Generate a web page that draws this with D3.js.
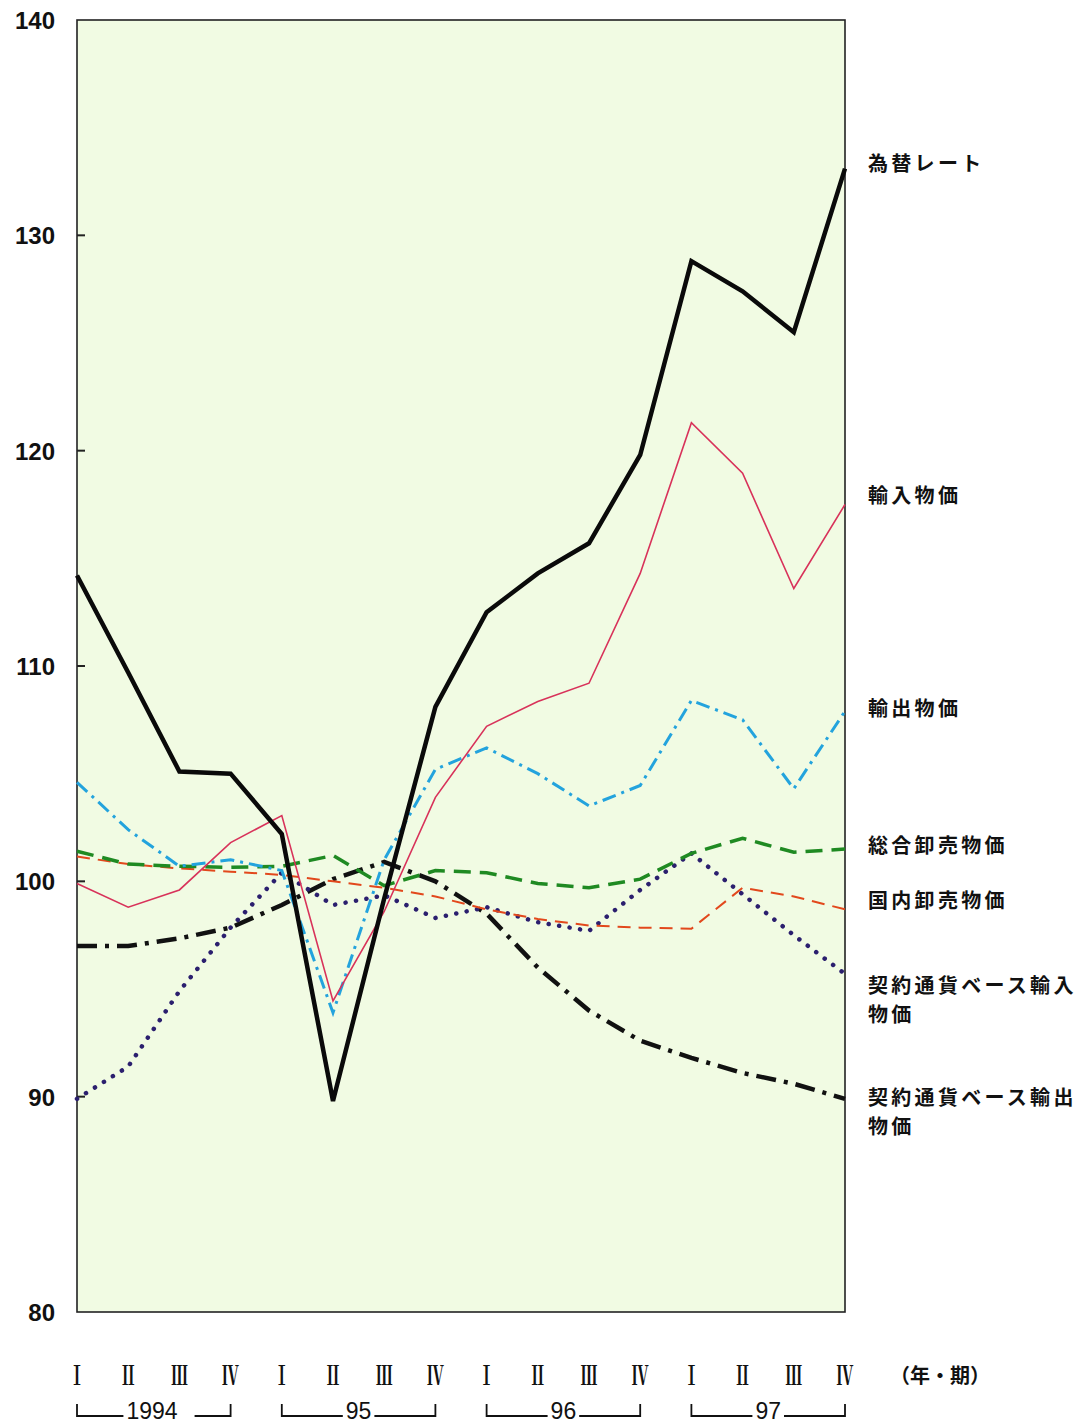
<!DOCTYPE html>
<html><head><meta charset="utf-8">
<script src="https://cdn.jsdelivr.net/npm/d3@7"></script>
<style>body{margin:0;background:#fff}svg{display:block}</style>
</head><body>
<svg id="chart" width="1081" height="1423"></svg>
<script>
// ---- data ----
const quarters = ["Ⅰ","Ⅱ","Ⅲ","Ⅳ","Ⅰ","Ⅱ","Ⅲ","Ⅳ","Ⅰ","Ⅱ","Ⅲ","Ⅳ","Ⅰ","Ⅱ","Ⅲ","Ⅳ"];
const years = ["1994","95","96","97"];
const yTicks = [80,90,100,110,120,130,140];
const exchangeRate   = [114.2,109.7,105.1,105.0,102.2,89.8,99.2,108.1,112.5,114.3,115.7,119.8,128.8,127.4,125.5,133.1];
const importPrice    = [99.9,98.8,99.6,101.8,103.05,94.45,98.6,103.9,107.2,108.35,109.2,114.3,121.3,118.95,113.6,117.5];
const exportPrice    = [104.6,102.4,100.7,101.0,100.5,93.9,101.0,105.2,106.2,105.0,103.5,104.45,108.4,107.5,104.3,107.9];
const totalWholesale = [101.4,100.8,100.7,100.65,100.7,101.2,99.8,100.5,100.4,99.9,99.7,100.1,101.3,102.0,101.35,101.5];
const domesticWholesale = [101.15,100.8,100.6,100.45,100.3,100.0,99.7,99.3,98.7,98.25,97.95,97.85,97.8,99.7,99.3,98.7];
const contractImport = [89.9,91.4,94.9,97.85,100.4,98.9,99.35,98.3,98.8,98.1,97.7,99.6,101.3,99.4,97.5,95.7];
const contractExport = [97.0,97.0,97.35,97.85,98.9,100.1,100.9,100.0,98.5,96.0,94.0,92.6,91.8,91.1,90.6,89.9];

const series = [
  {name:"契約通貨ベース輸出物価", values:contractExport, color:"#111", width:4.5, dash:"20,8,4,8"},
  {name:"契約通貨ベース輸入物価", values:contractImport, color:"#2b1f6e", width:4.5, dash:"0.1,10.5", cap:"round"},
  {name:"国内卸売物価", values:domesticWholesale, color:"#e2481c", width:2, dash:"13,8"},
  {name:"総合卸売物価", values:totalWholesale, color:"#1f8a22", width:3.5, dash:"17,9"},
  {name:"輸出物価", values:exportPrice, color:"#23a3dd", width:3, dash:"14,6,3,6"},
  {name:"輸入物価", values:importPrice, color:"#d8325a", width:1.6, dash:null},
  {name:"為替レート", values:exchangeRate, color:"#0a0a0a", width:4.5, dash:null}
];
const labels = [
  {lines:["為替レート"], y:171},
  {lines:["輸入物価"], y:503},
  {lines:["輸出物価"], y:716},
  {lines:["総合卸売物価"], y:853},
  {lines:["国内卸売物価"], y:908},
  {lines:["契約通貨ベース輸入","物価"], y:993},
  {lines:["契約通貨ベース輸出","物価"], y:1105}
];

// ---- layout ----
const svg = d3.select("#chart");
const L = 77, R = 845, T = 20, B = 1312;
const x = d3.scalePoint().domain(d3.range(16)).range([L, R]);
const y = d3.scaleLinear().domain([80,140]).range([B, T]);

svg.append("rect").attr("x",L).attr("y",T).attr("width",R-L).attr("height",B-T)
  .attr("fill","#f1fbe3").attr("stroke","#222").attr("stroke-width",1.6);

// y ticks (inside) and labels
svg.append("g").selectAll("line").data(yTicks.filter(d=>d>80&&d<140)).join("line")
  .attr("x1",L).attr("x2",L+8).attr("y1",d=>y(d)).attr("y2",d=>y(d))
  .attr("stroke","#222").attr("stroke-width",2);
svg.append("g").selectAll("text").data(yTicks).join("text")
  .attr("x",55).attr("y",d=>y(d)+9).attr("text-anchor","end")
  .attr("font-family","Liberation Sans, Arial, sans-serif").attr("font-size",24).attr("font-weight","bold")
  .attr("fill","#111").text(d=>d);

// lines
const line = d3.line().x((d,i)=>x(i)).y(d=>y(d));
svg.append("g").selectAll("path").data(series).join("path")
  .attr("d",d=>line(d.values)).attr("fill","none")
  .attr("stroke",d=>d.color).attr("stroke-width",d=>d.width)
  .attr("stroke-dasharray",d=>d.dash)
  .attr("stroke-linecap",d=>d.cap||"butt").attr("stroke-linejoin","miter");

// right labels
const lg = svg.append("g").attr("font-family","Noto Sans CJK JP, sans-serif")
  .attr("font-size",20).attr("font-weight","bold").attr("fill","#111").attr("letter-spacing",3.3);
labels.forEach(l=>{
  l.lines.forEach((s,k)=>{
    lg.append("text").attr("x",868).attr("y",l.y+k*29).text(s);
  });
});

// x axis quarter labels
const xg = svg.append("g");
quarters.forEach((q,i)=>{
  xg.append("text").attr("transform",`translate(${x(i)},1385) scale(0.85,1.35)`)
    .attr("text-anchor","middle").attr("font-family","Noto Serif CJK JP, Liberation Serif, serif")
    .attr("font-size",20).attr("font-weight","bold").attr("fill","#111").text(q);
});
svg.append("text").attr("x",890).attr("y",1383).attr("font-family","Noto Sans CJK JP, sans-serif")
  .attr("font-size",20).attr("font-weight","bold").attr("fill","#111").text("（年・期）");

// year brackets
years.forEach((yr,k)=>{
  const x0 = x(k*4), x1 = x(k*4+3);
  const cx = k===0 ? 152 : (x0+x1)/2;
  const t = svg.append("text").attr("x",cx).attr("y",1419).attr("text-anchor","middle")
    .attr("font-family","Liberation Sans, Arial, sans-serif").attr("font-size",23)
    .attr("fill","#111").text(yr);
  const w = t.node().getComputedTextLength();
  const gap = 3, yb = 1416;
  svg.append("path").attr("d",`M${x0},1404V${yb}H${cx-w/2-gap}M${cx+w/2+gap+(k===0?14:0)},${yb}H${x1}V1404`)
    .attr("fill","none").attr("stroke","#111").attr("stroke-width",1.8);
});
</script>
</body></html>
